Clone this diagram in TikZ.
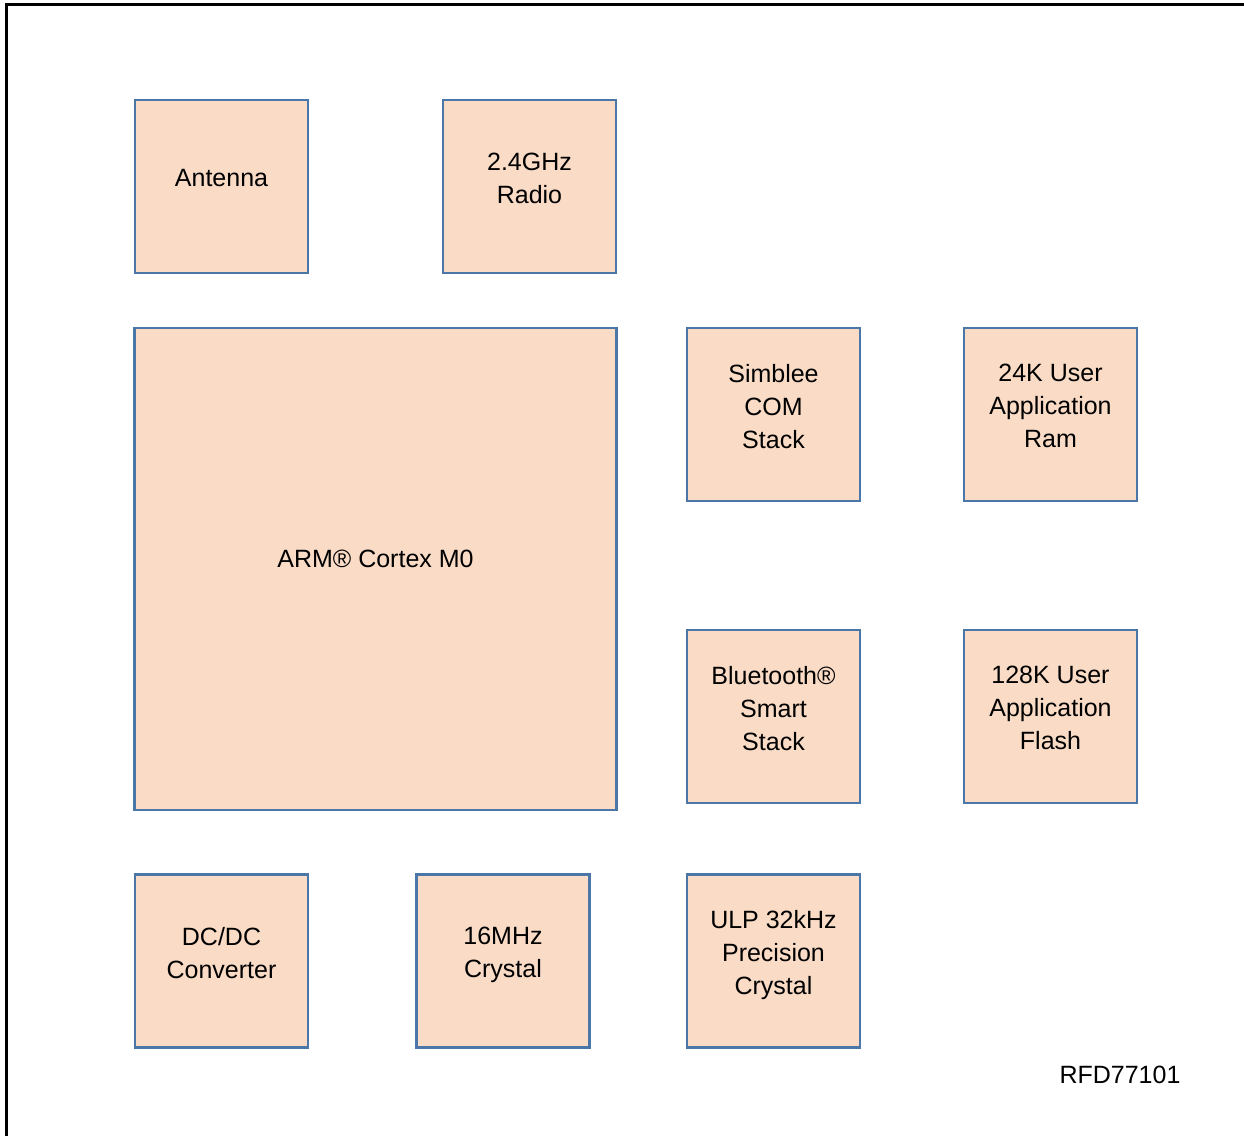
\documentclass[tikz,border=0pt]{standalone}
\usepackage{fontspec}
\setmainfont{Liberation Sans}
\definecolor{blkfill}{HTML}{F9DBC6}
\definecolor{blkline}{HTML}{4A76A8}
\tikzset{
  blk/.style = {rectangle, draw=blkline, fill=blkfill, line width=1.4pt,
                minimum width=#1, minimum height=#1, inner sep=0pt,
                align=center, text depth=8.5pt,
                font=\fontsize{12.5}{16.5}\selectfont},
  blk/.default = 86.5pt
}

\begin{document}
\begin{tikzpicture}[x=0.5pt,y=-0.5pt]
	\def \coresize{241pt}
	\useasboundingbox (0,0) rectangle (1244,1136);
	
	% Frame (left and top only)
	\draw[black, line width=1.3pt] (6.2,1136) -- (6.2,4.5) -- (1244,4.5);
	
	% Top row
	\node[blk] (antenna) at (221.5,186.5) {Antenna};
	\node[blk] (radio)   at (529.5,186.5) {2.4GHz\\Radio};
	
	% Core
	\node[blk=\coresize, text depth=10pt] (arm) at (375.5,569) {ARM\textregistered{} Cortex M0};
	
	% Stacks and memories
	\node[blk] (comstack) at (773.5,414.5)  {Simblee\\COM\\Stack};
	\node[blk] (ram)      at (1050.5,414.5) {24K User\\Application\\Ram};
	\node[blk] (btstack)  at (773.5,716.5)  {Bluetooth\textregistered\\Smart\\Stack};
	\node[blk] (flash)    at (1050.5,716.5) {128K User\\Application\\Flash};
	
	% Bottom row
	\node[blk] (dcdc)    at (221.5,961) {DC/DC\\Converter};
	\node[blk] (xtal)    at (503,961)   {16MHz\\Crystal};
	\node[blk] (ulpxtal) at (773.5,961) {ULP 32kHz\\Precision\\Crystal};
	
	% Part number
	\node[font=\fontsize{12.5}{16.5}\selectfont] (partno) at (1120,1075) {RFD77101};
	
\end{tikzpicture}
\end{document}
